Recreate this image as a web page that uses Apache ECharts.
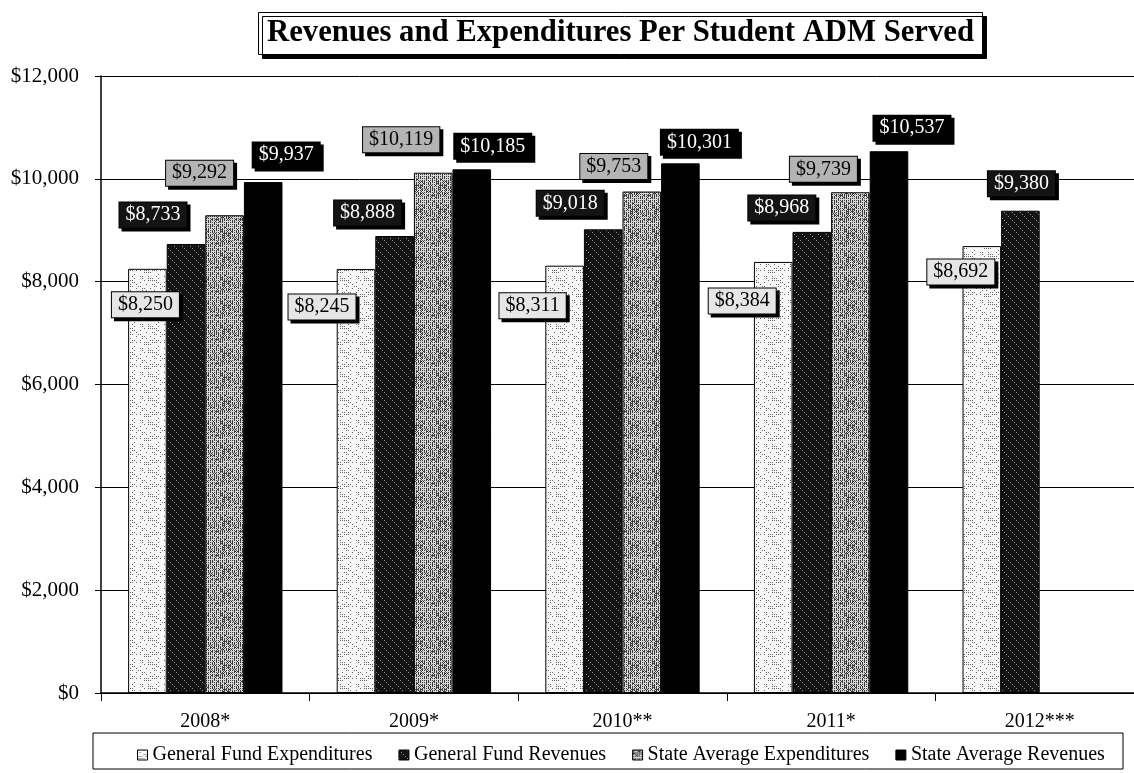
<!DOCTYPE html>
<html>
<head>
<meta charset="utf-8">
<script src="https://cdn.jsdelivr.net/npm/echarts@6/dist/echarts.min.js"></script>
<style>
html,body{margin:0;padding:0;background:#fff;}
#chart{width:1134px;height:773px;}
</style>
</head>
<body>
<div id="chart"></div>
<script>
// ---- data ----
const categories = ['2008*', '2009*', '2010**', '2011*', '2012***'];
const seriesNames = ['General Fund Expenditures', 'General Fund Revenues', 'State Average Expenditures', 'State Average Revenues'];
const gfExpenditures = [8250, 8245, 8311, 8384, 8692];
const gfRevenues = [8733, 8888, 9018, 8968, 9380];
const stateAvgExpenditures = [9292, 10119, 9753, 9739, null];
const stateAvgRevenues = [9937, 10185, 10301, 10537, null];
const yTicks = [0, 2000, 4000, 6000, 8000, 10000, 12000];

// ---- label placement (offsets from bar-top centre, px) ----
const labelOffsets = [
  [[-2, 36], [-34, 38], [-32, 40], [-31, 39], [-21, 26]],
  [[-33, -29], [-27, -23], [-33, -26], [-30, -24], [1, -27]],
  [[-25, -42], [-32, -33], [-28, -25], [-27, -23], [0, 0]],
  [[23, -27], [21, -23], [19, -21], [23, -23], [0, 0]]
];

// deterministic texture hash (for the stippled bar fills only)
function h(x, y, k) { return (((x * 374761393) ^ (y * 668265263) ^ (x * y * 2246822519)) >>> 0) % k; }
function makePattern(bg, fg, fn, size) {
  const c = document.createElement('canvas');
  c.width = size; c.height = size;
  const ctx = c.getContext('2d');
  ctx.fillStyle = bg; ctx.fillRect(0, 0, size, size);
  ctx.fillStyle = fg;
  for (let y = 0; y < size; y++) for (let x = 0; x < size; x++) if (fn(x, y)) ctx.fillRect(x, y, 1, 1);
  return { image: c, repeat: 'repeat' };
}
const fills = [
  makePattern('#f8f8f8', '#666666', (x, y) => h(x, y, 6) === 0, 24),
  makePattern('#141414', '#8f8f8f', (x, y) => h(x, y, 8) === 0, 24),
  makePattern('#d8d8d8', '#3a3a3a', (x, y) => (y % 2 === 0 ? x % 2 === 0 : h(x, y, 3) === 0), 24),
  '#000000'
];
const labelStyles = [
  { bg: '#e6e6e6', color: '#000' },
  { bg: '#141414', color: '#fff' },
  { bg: '#b4b4b4', color: '#000' },
  { bg: '#000000', color: '#fff' }
];
const values = [gfExpenditures, gfRevenues, stateAvgExpenditures, stateAvgRevenues];

function money(v) { return '$' + Number(v).toLocaleString('en-US'); }

const FONT = 'Liberation Serif';
const chart = echarts.init(document.getElementById('chart'));

const series = values.map((arr, s) => ({
  name: seriesNames[s],
  type: 'bar',
  barGap: '0%',
  barCategoryGap: '26%',
  itemStyle: { color: fills[s], borderColor: '#000', borderWidth: 1 },
  label: {
    show: true,
    position: ['50%', 0],
    align: 'center',
    verticalAlign: 'middle',
    formatter: p => money(p.value),
    fontFamily: FONT,
    fontSize: 20,
    color: labelStyles[s].color,
    backgroundColor: labelStyles[s].bg,
    borderColor: '#000',
    borderWidth: 1,
    padding: [3, 6, 2, 6],
    shadowColor: '#000',
    shadowOffsetX: 3,
    shadowOffsetY: 3,
    shadowBlur: 0
  },
  data: arr.map((v, i) => v == null ? null : { value: v, label: { offset: labelOffsets[s][i] } })
}));

chart.setOption({
  animation: false,
  backgroundColor: '#fff',
  title: {
    text: 'Revenues and Expenditures Per Student ADM Served',
    left: 258,
    top: 12,
    padding: [3, 9, 3, 9],
    backgroundColor: '#fff',
    borderColor: '#000',
    borderWidth: 1,
    shadowColor: '#000',
    shadowOffsetX: 4,
    shadowOffsetY: 4,
    shadowBlur: 0,
    textStyle: { fontFamily: FONT, fontSize: 30.7, fontWeight: 'bold', color: '#000', lineHeight: 37 }
  },
  grid: { left: 101, right: -10, top: 76, bottom: 80, containLabel: false, outerBoundsMode: 'none' },
  legend: {
    data: seriesNames,
    left: 132,
    top: 740,
    itemWidth: 10,
    itemHeight: 10,
    itemGap: 26,
    icon: 'rect',
    itemStyle: { borderColor: '#000', borderWidth: 1 },
    textStyle: { fontFamily: FONT, fontSize: 20, color: '#000' }
  },
  graphic: [{
    type: 'rect',
    shape: { x: 93, y: 733, width: 1030, height: 36 },
    style: { fill: 'none', stroke: '#000', lineWidth: 1 },
    z: -1
  }],
  xAxis: {
    type: 'category',
    data: categories,
    axisLine: { lineStyle: { color: '#000', width: 1.5 } },
    axisTick: { show: true, length: 8, lineStyle: { color: '#000' } },
    axisLabel: { fontFamily: FONT, fontSize: 20, color: '#000', margin: 19 }
  },
  yAxis: {
    type: 'value',
    min: yTicks[0],
    max: yTicks[yTicks.length - 1],
    interval: 2000,
    axisLine: { show: true, lineStyle: { color: '#000', width: 1.5 } },
    axisTick: { show: true, length: 6, lineStyle: { color: '#000' } },
    splitLine: { show: true, lineStyle: { color: '#000', width: 1 } },
    axisLabel: { fontFamily: FONT, fontSize: 21, color: '#000', margin: 22, formatter: v => money(v) }
  },
  series: series
});
</script>
</body>
</html>
